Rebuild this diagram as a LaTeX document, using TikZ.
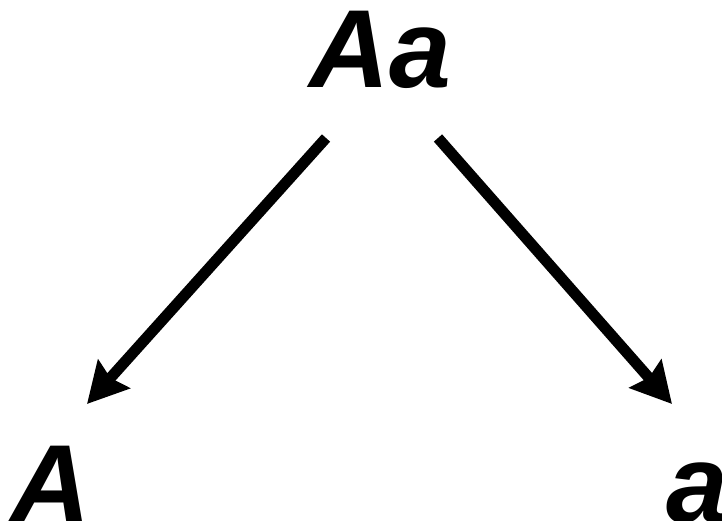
\documentclass[tikz,border=0pt]{standalone}
\usepackage{fontspec}
\setmainfont{Liberation Sans}
\usetikzlibrary{arrows.meta}
\begin{document}
\begin{tikzpicture}[x=1pt,y=-1pt,
  lbl/.style={inner sep=0pt,font=\fontsize{111}{120}\selectfont\bfseries\itshape},
  arr/.style={line width=11pt,-{Stealth[length=40pt,width=42pt,inset=5pt]}}]
\useasboundingbox (0,0) rectangle (722,521);
\node[lbl,anchor=base] (top) at (380,88) {Aa};
\node[lbl,anchor=base west] (left) at (10,522) {A};
\node[lbl,anchor=base west] (right) at (666,522) {a};
\coordinate (s1) at (326,138);
\coordinate (s2) at (438,138);
\coordinate (e1) at (87,404);
\coordinate (e2) at (672,404);
\draw[arr] (s1) -- (e1);
\draw[arr] (s2) -- (e2);
\end{tikzpicture}
\end{document}
